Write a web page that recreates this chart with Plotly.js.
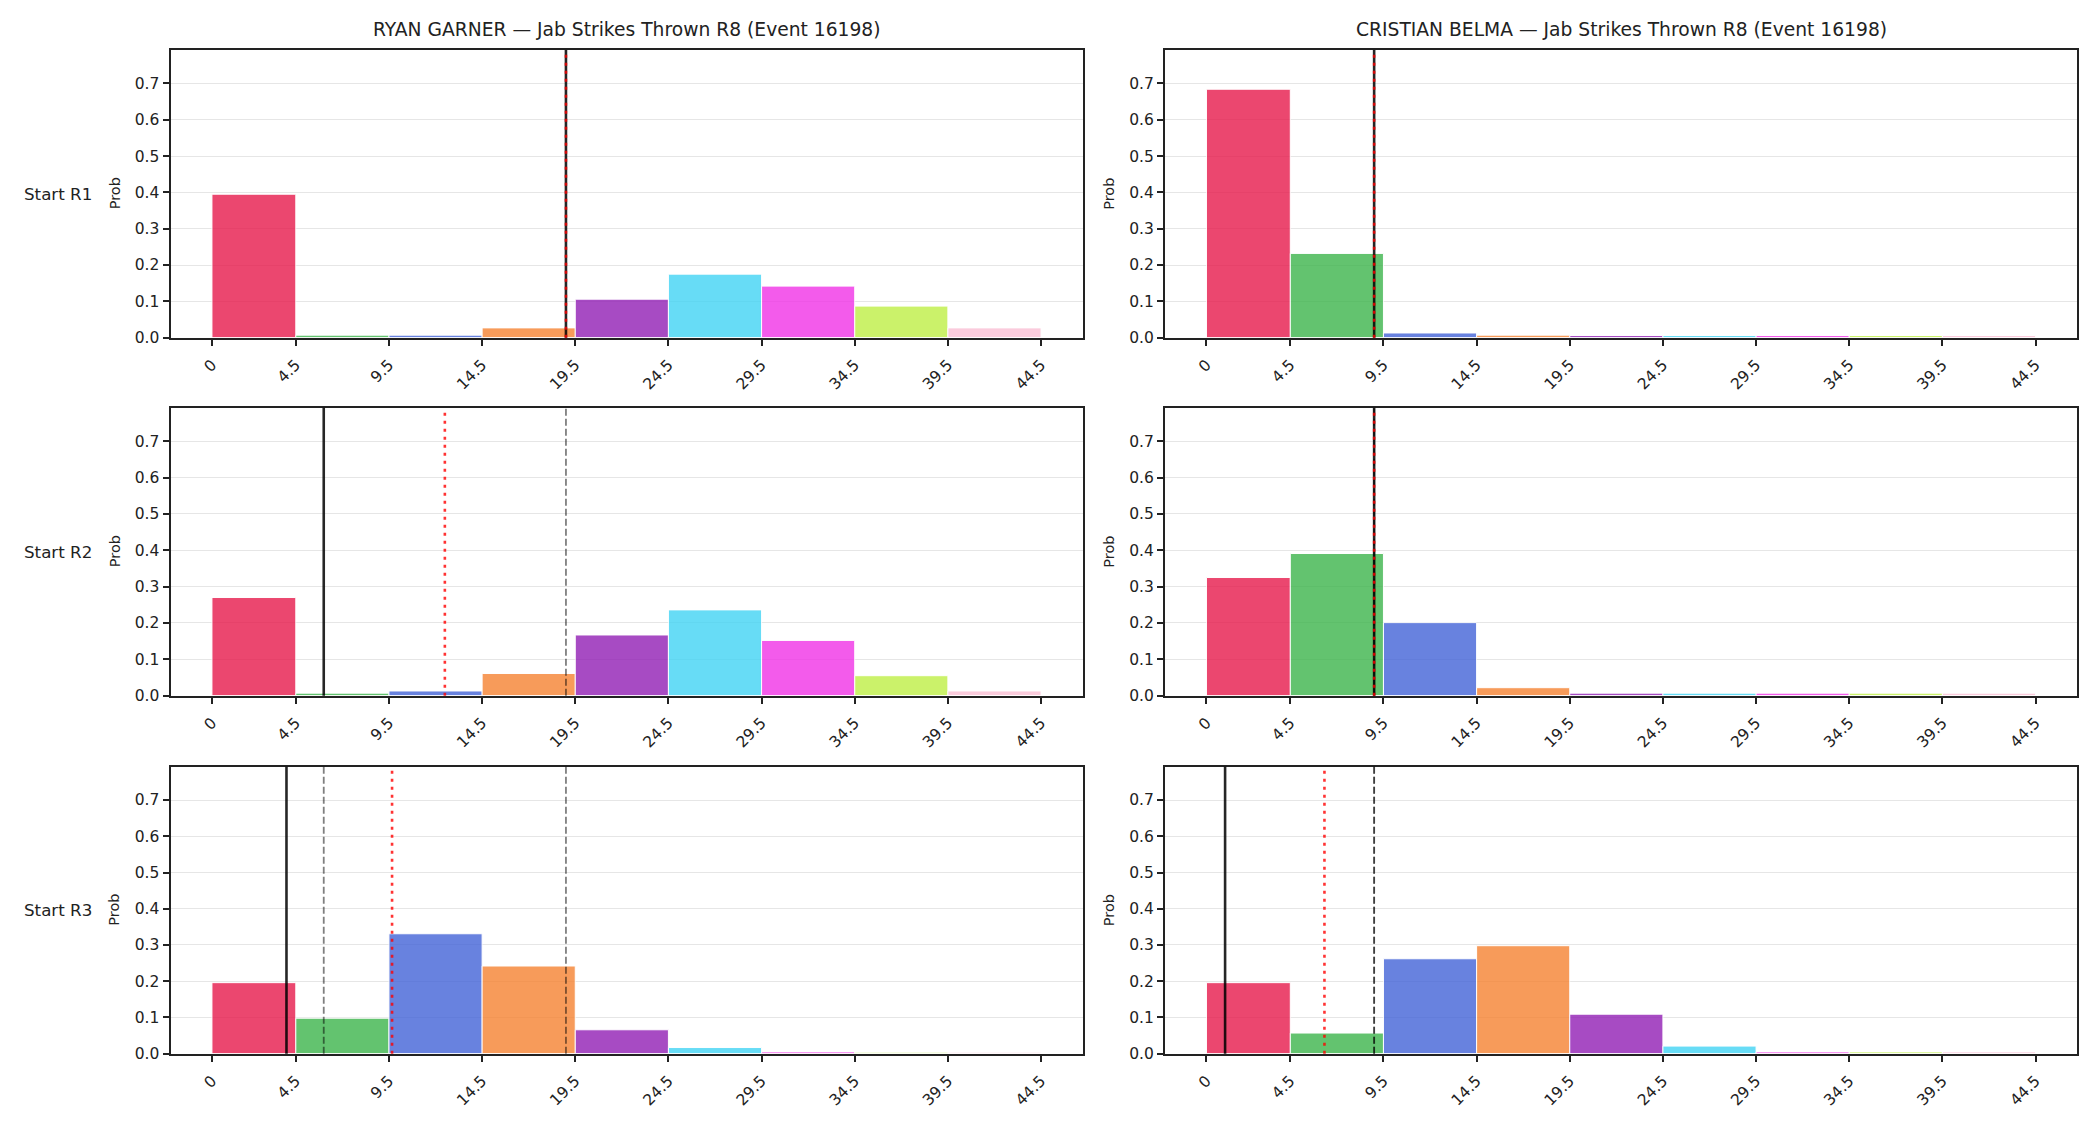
<!DOCTYPE html>
<html>
<head>
<meta charset="utf-8">
<script src="https://cdn.plot.ly/plotly-3.0.1.min.js"></script>
<style>
  html, body { margin: 0; padding: 0; background: #ffffff; }
  #chart { width: 2100px; height: 1125px; }
</style>
</head>
<body>
<div id="chart"></div>
<script>
// Histogram bin edges (strikes thrown) and their tick labels
const binEdges = [0, 4.5, 9.5, 14.5, 19.5, 24.5, 29.5, 34.5, 39.5, 44.5];
const tickLabels = ["0", "4.5", "9.5", "14.5", "19.5", "24.5", "29.5", "34.5", "39.5", "44.5"];

// Bin colours, one per bin
const binColors = ["#e6194b", "#3cb44b", "#4363d8", "#f58231", "#911eb4",
                   "#42d4f4", "#f032e6", "#bfef45", "#fabed4"];

// Fighter names and row labels
const fighters = ["RYAN GARNER", "CRISTIAN BELMA"];
const rowLabels = ["Start R1", "Start R2", "Start R3"];

// Predicted probability per bin, for each starting round
const garnerR1 = [0.395, 0.007, 0.007, 0.027, 0.106, 0.175, 0.142, 0.087, 0.027];
const garnerR2 = [0.270, 0.007, 0.013, 0.061, 0.167, 0.236, 0.152, 0.055, 0.013];
const garnerR3 = [0.196, 0.098, 0.331, 0.242, 0.066, 0.017, 0.005, 0.004, 0.004];
const belmaR1  = [0.684, 0.232, 0.013, 0.007, 0.006, 0.006, 0.006, 0.006, 0.006];
const belmaR2  = [0.325, 0.391, 0.201, 0.022, 0.007, 0.007, 0.007, 0.007, 0.007];
const belmaR3  = [0.196, 0.057, 0.262, 0.298, 0.109, 0.021, 0.005, 0.005, 0.005];

// Jab strikes actually thrown in each round
const garnerActual = [19, 6, 4];
const belmaActual  = [9, 9, 1];

const FONT = "DejaVu Sans, Liberation Sans, sans-serif";
const INK = "#222222";
const W = 2100, H = 1125;

// Panel geometry in pixels
const colX = [[170.5, 1082.5], [1165, 2077]];
const rowY = [[50, 337.7], [407.7, 695.7], [766.7, 1053.7]];

const probs = [[garnerR1, belmaR1], [garnerR2, belmaR2], [garnerR3, belmaR3]];
const actuals = [garnerActual, belmaActual];

const centers = [], widths = [];
for (let i = 0; i < binEdges.length - 1; i++) {
  centers.push((binEdges[i] + binEdges[i + 1]) / 2);
  widths.push(binEdges[i + 1] - binEdges[i]);
}

const data = [];
const layout = {
  width: W, height: H,
  margin: {l: 0, r: 0, t: 0, b: 0},
  paper_bgcolor: "#ffffff",
  plot_bgcolor: "#ffffff",
  showlegend: false,
  font: {family: FONT, color: INK, size: 15},
  bargap: 0,
  shapes: [],
  annotations: []
};

let n = 0;
for (let r = 0; r < 3; r++) {
  for (let c = 0; c < 2; c++) {
    n++;
    const sfx = n === 1 ? "" : String(n);
    const xa = "x" + sfx, ya = "y" + sfx;

    data.push({
      type: "bar",
      x: centers,
      y: probs[r][c],
      width: widths,
      xaxis: xa, yaxis: ya,
      marker: {color: binColors, opacity: 0.8, line: {color: "#ffffff", width: 1}},
      hoverinfo: "x+y"
    });

    const axisCommon = {
      showline: true, mirror: true, linecolor: INK, linewidth: 2,
      ticks: "outside", ticklen: 6, tickwidth: 2, tickcolor: INK,
      tickfont: {family: FONT, size: 15.5, color: INK},
      zeroline: false
    };

    layout["xaxis" + sfx] = Object.assign({}, axisCommon, {
      domain: [colX[c][0] / W, colX[c][1] / W],
      anchor: ya,
      range: [-2.225, 46.725],
      tickmode: "array",
      tickvals: binEdges,
      ticktext: tickLabels,
      tickangle: -45,
      ticklabelstandoff: 4,
      showgrid: false
    });

    layout["yaxis" + sfx] = Object.assign({}, axisCommon, {
      domain: [1 - rowY[r][1] / H, 1 - rowY[r][0] / H],
      anchor: xa,
      range: [0, 0.792],
      tickmode: "array",
      tickvals: [0, 0.1, 0.2, 0.3, 0.4, 0.5, 0.6, 0.7],
      tickformat: ".1f",
      showgrid: true, gridcolor: "#e6e6e6", gridwidth: 1
    });

    // "Prob" axis label
    layout.annotations.push({
      xref: "paper", yref: "paper",
      x: (colX[c][0] - 56) / W, y: 1 - (rowY[r][0] + rowY[r][1]) / 2 / H,
      text: "Prob", textangle: -90, showarrow: false,
      xanchor: "center", yanchor: "middle",
      font: {family: FONT, size: 14.5, color: INK}
    });

    // Previous rounds' actual counts (dashed)
    for (let k = 0; k < r; k++) {
      layout.shapes.push({
        type: "line", xref: xa, yref: ya + " domain",
        x0: actuals[c][k], x1: actuals[c][k], y0: 0, y1: 1,
        line: {color: "rgba(0,0,0,0.5)", width: 1.8, dash: "7px,3px"},
        layer: "above"
      });
    }
    // This round's actual count (solid)
    layout.shapes.push({
      type: "line", xref: xa, yref: ya + " domain",
      x0: actuals[c][r], x1: actuals[c][r], y0: 0, y1: 1,
      line: {color: "rgba(0,0,0,0.85)", width: 2.6},
      layer: "above"
    });
    // Running mean of actual counts so far (dotted)
    let s = 0;
    for (let k = 0; k <= r; k++) s += actuals[c][k];
    const mean = s / (r + 1);
    layout.shapes.push({
      type: "line", xref: xa, yref: ya + " domain",
      x0: mean, x1: mean, y0: 0, y1: 1,
      line: {color: "rgba(255,0,0,0.8)", width: 2.6, dash: "3px,5px"},
      layer: "above"
    });
  }

  // Row label
  layout.annotations.push({
    xref: "paper", yref: "paper",
    x: 22 / W, y: 1 - (rowY[r][0] + rowY[r][1]) / 2 / H,
    text: rowLabels[r], showarrow: false,
    xanchor: "left", yanchor: "middle",
    font: {family: FONT, size: 16.7, color: INK}
  });
}

// Column titles
for (let c = 0; c < 2; c++) {
  layout.annotations.push({
    xref: "paper", yref: "paper",
    x: (colX[c][0] + colX[c][1]) / 2 / W, y: 1 - 29 / H,
    text: fighters[c] + " — Jab Strikes Thrown R8 (Event 16198)",
    showarrow: false, xanchor: "center", yanchor: "middle",
    font: {family: FONT, size: 18.7, color: INK}
  });
}

Plotly.newPlot("chart", data, layout, {staticPlot: true, displayModeBar: false});
</script>
</body>
</html>
